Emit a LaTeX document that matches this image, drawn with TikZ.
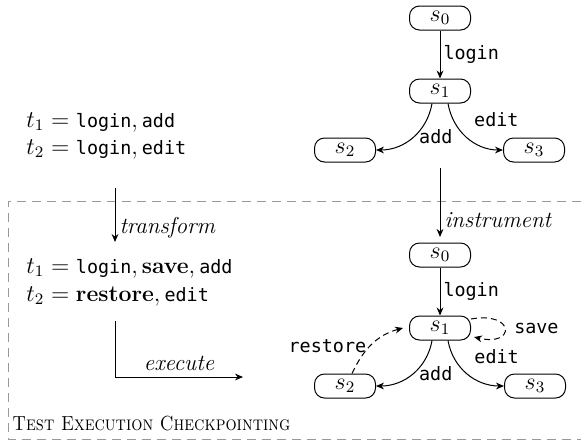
\documentclass[tikz,border=0pt]{standalone}
\usepackage{fontspec}
\setmonofont{DejaVu Sans Mono}[Scale=0.8]
\usetikzlibrary{arrows.meta}
\begin{document}
\begin{tikzpicture}[x=0.5pt,y=-0.5pt,
  font=\fontsize{11.5}{13}\selectfont,
  state/.style={draw, rounded corners=5pt, minimum width=30.5pt, minimum height=12pt, inner sep=0pt, line width=0.5pt},
  conn/.style={-{Stealth[length=4pt,width=3.4pt]}, line width=0.5pt},
  dconn/.style={conn, dash pattern=on 3pt off 2pt},
  lbl/.style={font=\ttfamily\fontsize{11.5}{13}\selectfont, inner sep=1.5pt},
  trace/.style={anchor=base west, inner sep=0pt},
  frame/.style={draw=black!40, dash pattern=on 4.5pt off 3pt, line width=0.5pt},
]
\useasboundingbox (0,0) rectangle (581,440);
% frame
\draw[frame] (581,201) -- (8,201) -- (8,439) -- (581,439);
\node[anchor=base west, inner sep=0pt] (title) at (12,430) {\scalebox{0.86}[1]{\fontsize{10.2}{12}\selectfont\textsc{Test Execution Checkpointing}}};

% upper graph
\node[state] (a0) at (440,18) {$s_0$};
\node[state] (a1) at (440,91) {$s_1$};
\node[state] (a2) at (345,150) {$s_2$};
\node[state] (a3) at (534,150) {$s_3$};
\draw[conn] (a0) -- node[lbl, right] {login} (a1);
\draw[conn] ([xshift=-4pt]a1.south) to[out=-100,in=0] node[lbl, pos=0.45, anchor=west, yshift=-1pt] {add} (a2.east);
\draw[conn] ([xshift=4pt]a1.south) to[out=-80,in=180] node[lbl, pos=0.3, anchor=south west, xshift=7pt, yshift=-2pt] {edit} (a3.west);

% instrument
\coordinate (i1) at (440,168);
\coordinate (i2) at (440,237);
\draw[conn] (i1) -- node[right, pos=0.76, inner sep=2pt] {\itshape instrument} (i2);

% lower graph
\node[state] (b0) at (440,255) {$s_0$};
\node[state] (b1) at (440,328) {$s_1$};
\node[state] (b2) at (345,386) {$s_2$};
\node[state] (b3) at (535,386) {$s_3$};
\draw[conn] (b0) -- node[lbl, right] {login} (b1);
\draw[conn] ([xshift=-4pt]b1.south) to[out=-100,in=0] node[lbl, pos=0.45, anchor=west, yshift=-1pt] {add} (b2.east);
\draw[conn] ([xshift=4pt]b1.south) to[out=-80,in=180] node[lbl, pos=0.3, anchor=south west, xshift=7pt, yshift=-2.5pt] {edit} (b3.west);
\draw[dconn] ([yshift=4.5pt]b1.east) .. controls +(22pt,4pt) and +(21pt,-5pt) .. node[lbl, pos=0.5, anchor=west, xshift=3pt] {save} ([yshift=-4.5pt,xshift=1.5pt]b1.east);
\draw[dconn] ([xshift=3.5pt]b2.north) to[out=65,in=195] node[lbl, pos=0.45, anchor=east] {restore} ([xshift=-3pt]b1.west);

% left traces
\node[trace] (tA) at (26,127) {$t_1 = \mbox{\texttt{login}}, \mbox{\texttt{add}}$};
\node[trace] (tB) at (26,154) {$t_2 = \mbox{\texttt{login}}, \mbox{\texttt{edit}}$};
\node[trace] (tC) at (26,273) {$t_1 = \mbox{\texttt{login}}, \mbox{\textbf{save}}, \mbox{\texttt{add}}$};
\node[trace] (tD) at (26,301) {$t_2 = \mbox{\textbf{restore}}, \mbox{\texttt{edit}}$};

\coordinate (tr1) at (115,188);
\coordinate (tr2) at (115,242);
\draw[conn] (tr1) -- node[right, pos=0.74, inner sep=2pt] {\itshape transform} (tr2);

\coordinate (e1) at (115,321);
\coordinate (e2) at (243,377);
\draw[conn] (e1) |- node[above, pos=0.75, inner sep=3pt] {\itshape execute} (e2);
\end{tikzpicture}
\end{document}
